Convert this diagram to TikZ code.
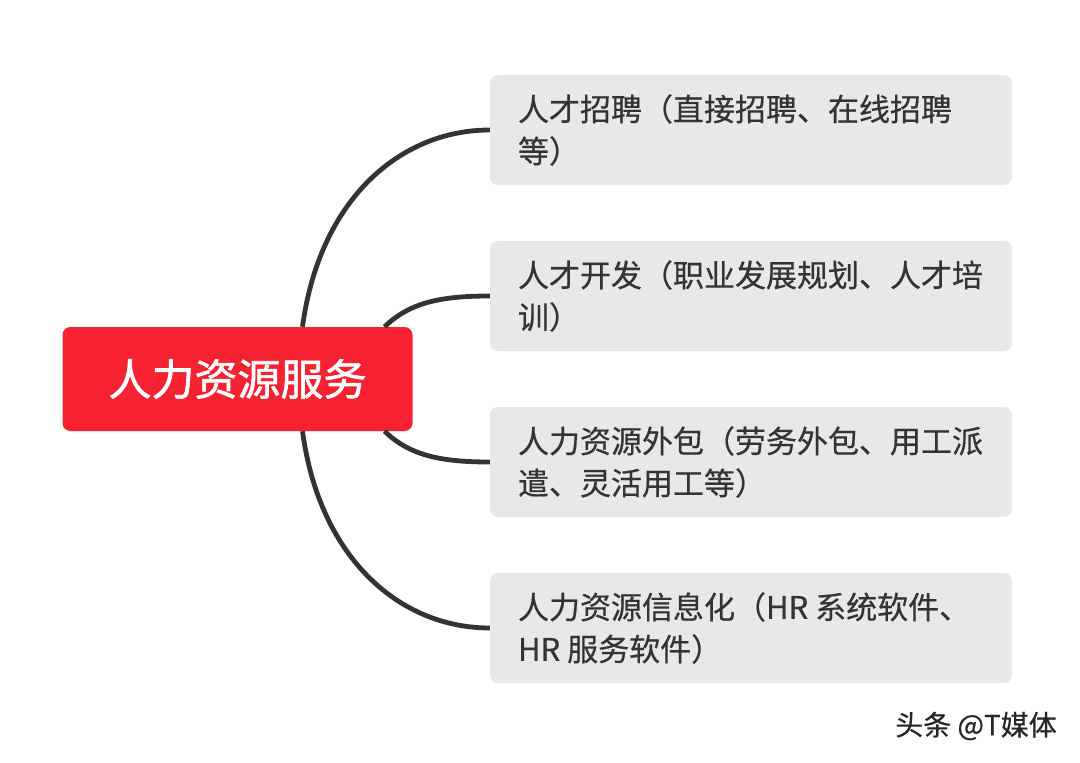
\documentclass[tikz,border=0pt]{standalone}
\usepackage{fontspec}
\newfontfamily\cjk[FakeBold=0.5]{Noto Sans CJK SC}
\newfontfamily\cjkmid[FakeBold=1.4]{Noto Sans CJK SC}
\usetikzlibrary{calc}
\definecolor{rootred}{HTML}{F72231}
\definecolor{boxgray}{HTML}{E8E8E8}
\definecolor{ink}{HTML}{333333}
\begin{document}
\begin{tikzpicture}[x=1pt,y=-1pt,
  rootbox/.style={fill=rootred,rounded corners=8pt,minimum width=350pt,minimum height=104pt,inner sep=0pt,
    text=white,font=\cjkmid\fontsize{43}{50}\selectfont},
  leafbox/.style={fill=boxgray,rounded corners=8pt,minimum width=522pt,minimum height=110pt,inner sep=0pt},
  leaftext/.style={anchor=west,align=left,inner sep=0pt,text=ink,font=\cjk\fontsize{31}{42}\selectfont},
  conn/.style={draw=ink,line width=4.8pt}]
\useasboundingbox (0,0) rectangle (1080,763);
\fill[white] (0,0) rectangle (1080,763);

\node[rootbox] (c) at (237.5,379) {人力资源服务};

\node[leafbox] (b1) at (751,130) {};
\node[leafbox] (b2) at (751,296) {};
\node[leafbox] (b3) at (751,462) {};
\node[leafbox] (b4) at (751,628) {};

\node[leaftext] (t1) at ([xshift=28pt]b1.west) {人才招聘（直接招聘、在线招聘\\等）};
\node[leaftext] (t2) at ([xshift=28pt]b2.west) {人才开发（职业发展规划、人才培\\训）};
\node[leaftext] (t3) at ([xshift=28pt]b3.west) {人力资源外包（劳务外包、用工派\\遣、灵活用工等）};
\node[leaftext] (t4) at ([xshift=28pt]b4.west) {人力资源信息化（HR 系统软件、\\HR 服务软件）};

\draw[conn] ([xshift=65pt]c.north) .. controls +(17,-127) and +(-90,0) .. (b1.west);
\draw[conn] ([xshift=147pt]c.north) .. controls +(25,-24) and +(-50,0) .. (b2.west);
\draw[conn] ([xshift=147pt]c.south) .. controls +(25,24) and +(-50,0) .. (b3.west);
\draw[conn] ([xshift=65pt]c.south) .. controls +(17,127) and +(-90,0) .. (b4.west);

\node[inner sep=0pt,text=black!85,font=\cjk\fontsize{28}{32}\selectfont] (wm) at (976,726) {头条 @T媒体};
\end{tikzpicture}
\end{document}
